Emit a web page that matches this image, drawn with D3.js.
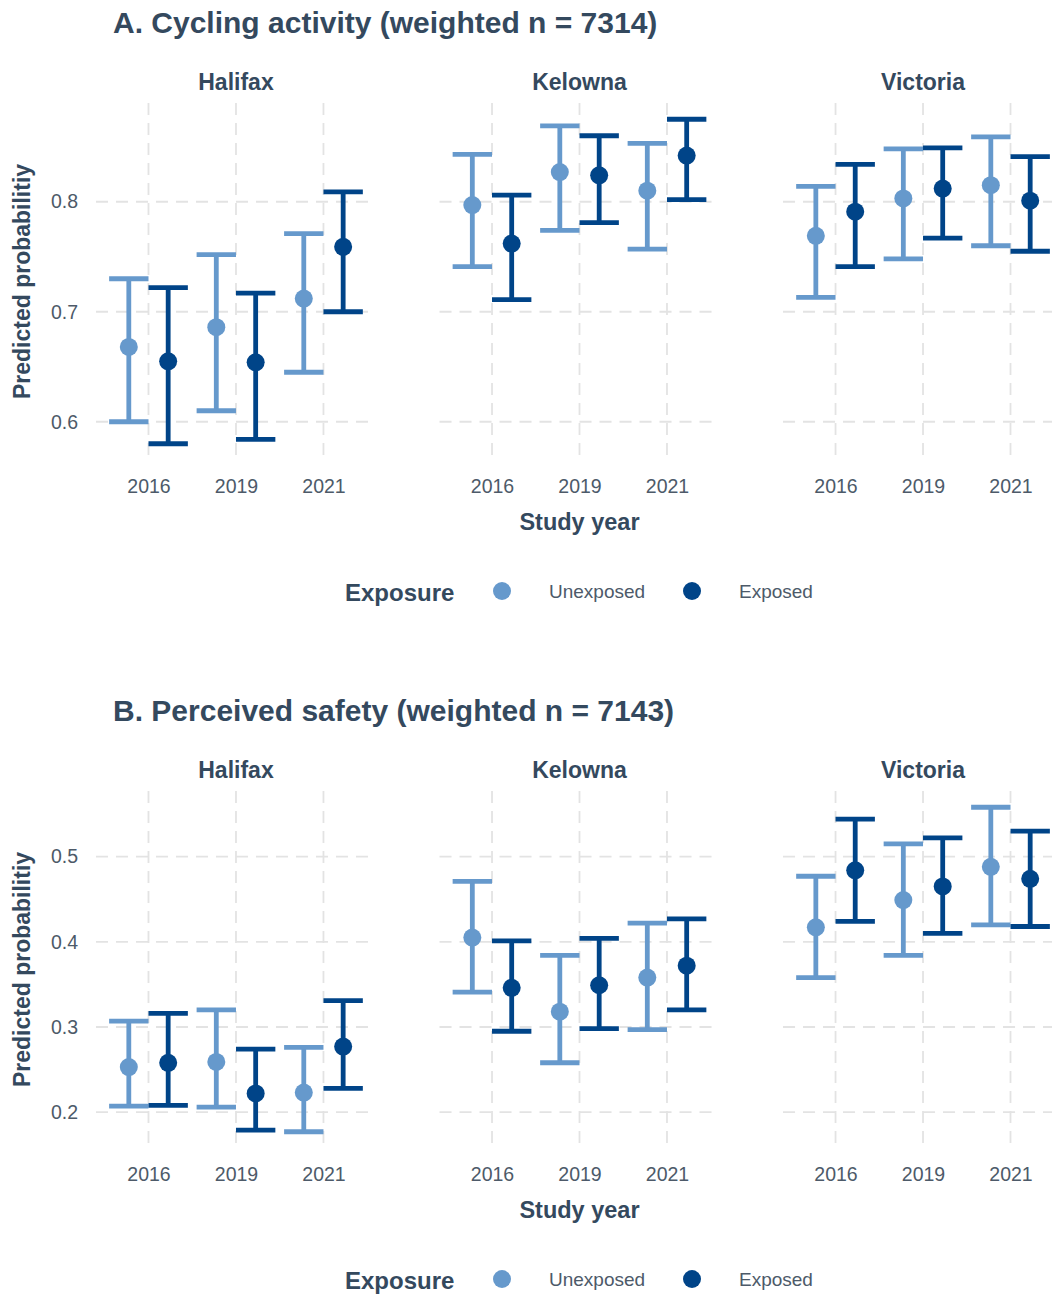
<!DOCTYPE html>
<html>
<head>
<meta charset="utf-8">
<script src="https://cdn.jsdelivr.net/npm/d3@7"></script>
<style>
  body { margin: 0; background: #fff; }
  text { font-family: "Liberation Sans", Arial, sans-serif; }
</style>
</head>
<body>
<svg id="chart" width="1052" height="1295"></svg>
<script>
const cities = ["Halifax", "Kelowna", "Victoria"];
const years = ["2016", "2019", "2021"];
const groups = ["Unexposed", "Exposed"];

// values ordered Halifax 2016/2019/2021, Kelowna 2016/2019/2021, Victoria 2016/2019/2021
// A. Cycling activity
const cycUnexpEst = [0.668, 0.686, 0.712, 0.797, 0.827, 0.810, 0.769, 0.803, 0.815];
const cycUnexpLo  = [0.600, 0.610, 0.645, 0.741, 0.774, 0.757, 0.713, 0.748, 0.760];
const cycUnexpHi  = [0.730, 0.752, 0.771, 0.843, 0.869, 0.853, 0.814, 0.848, 0.859];
const cycExpEst   = [0.655, 0.654, 0.759, 0.762, 0.824, 0.842, 0.791, 0.812, 0.801];
const cycExpLo    = [0.580, 0.584, 0.700, 0.711, 0.781, 0.802, 0.741, 0.767, 0.755];
const cycExpHi    = [0.722, 0.717, 0.809, 0.806, 0.860, 0.875, 0.834, 0.849, 0.841];

// B. Perceived safety
const safUnexpEst = [0.253, 0.259, 0.223, 0.405, 0.318, 0.358, 0.417, 0.449, 0.488];
const safUnexpLo  = [0.207, 0.206, 0.177, 0.341, 0.258, 0.297, 0.358, 0.384, 0.420];
const safUnexpHi  = [0.307, 0.320, 0.276, 0.471, 0.384, 0.422, 0.477, 0.515, 0.558];
const safExpEst   = [0.258, 0.222, 0.277, 0.346, 0.349, 0.372, 0.484, 0.465, 0.474];
const safExpLo    = [0.208, 0.179, 0.228, 0.295, 0.298, 0.320, 0.424, 0.410, 0.418];
const safExpHi    = [0.316, 0.274, 0.331, 0.401, 0.404, 0.427, 0.544, 0.522, 0.530];

const cycTicks = [0.6, 0.7, 0.8];
const safTicks = [0.2, 0.3, 0.4, 0.5];

const colors = { Unexposed: "#6699CC", Exposed: "#004488" };
const titleColor = "#34495E";
const tickColor = "#4D5A69";
const gridColor = "#E3E3E3";

const svg = d3.select("#chart");

const facet = d3.scaleBand()
    .domain(cities)
    .range([96, 1063])
    .paddingInner(0.185);

function buildRows(uEst, uLo, uHi, eEst, eLo, eHi) {
    const rows = [];
    cities.forEach((c, ci) => {
        years.forEach((y, yi) => {
            const i = ci * years.length + yi;
            rows.push({ city: c, year: y, group: "Unexposed", est: uEst[i], lo: uLo[i], hi: uHi[i] });
            rows.push({ city: c, year: y, group: "Exposed", est: eEst[i], lo: eLo[i], hi: eHi[i] });
        });
    });
    return rows;
}

function drawPanel(offsetY, title, rows, yTicks) {
    const g = svg.append("g").attr("transform", `translate(0,${offsetY})`);
    const top = 103, bottom = 460;

    // ggplot style 5% expansion of the data range
    const minV = d3.min(rows, d => d.lo);
    const maxV = d3.max(rows, d => d.hi);
    const pad = (maxV - minV) * 0.05;
    const y = d3.scaleLinear()
        .domain([minV - pad, maxV + pad])
        .range([bottom, top]);

    const x = d3.scalePoint()
        .domain(years)
        .range([0, facet.bandwidth()])
        .padding(0.6);

    const dodge = d3.scaleBand()
        .domain(groups)
        .range([-0.45 * x.step(), 0.45 * x.step()]);

    // title
    g.append("text")
        .attr("x", 113)
        .attr("y", 33)
        .attr("fill", titleColor)
        .style("font-size", "30px")
        .style("font-weight", "bold")
        .text(title);

    cities.forEach((city, ci) => {
        const fx = facet(city);
        const fg = g.append("g").attr("transform", `translate(${fx},0)`);

        // grid
        fg.selectAll("line.hgrid")
            .data(yTicks)
            .join("line")
            .attr("class", "hgrid")
            .attr("x1", 0).attr("x2", facet.bandwidth())
            .attr("y1", d => y(d)).attr("y2", d => y(d))
            .attr("stroke", gridColor)
            .attr("stroke-width", 1.8)
            .attr("stroke-dasharray", "12,8");

        fg.selectAll("line.vgrid")
            .data(years)
            .join("line")
            .attr("class", "vgrid")
            .attr("x1", d => x(d)).attr("x2", d => x(d))
            .attr("y1", top).attr("y2", bottom)
            .attr("stroke", gridColor)
            .attr("stroke-width", 1.8)
            .attr("stroke-dasharray", "12,8");

        // strip label
        fg.append("text")
            .attr("x", facet.bandwidth() / 2)
            .attr("y", 90)
            .attr("text-anchor", "middle")
            .attr("fill", titleColor)
            .style("font-size", "23px")
            .style("font-weight", "bold")
            .text(city);

        // x axis
        const xAxis = fg.append("g")
            .attr("transform", `translate(0,${bottom})`)
            .call(d3.axisBottom(x).tickSize(0).tickPadding(12));
        xAxis.select(".domain").remove();
        xAxis.selectAll("text")
            .attr("fill", tickColor)
            .style("font-size", "19.5px")
            .attr("dy", "0.71em")
            .attr("y", 19);

        if (ci === 0) {
            const yAxis = fg.append("g")
                .call(d3.axisLeft(y).tickValues(yTicks).tickSize(0).tickPadding(18).tickFormat(d3.format(".1f")));
            yAxis.select(".domain").remove();
            yAxis.selectAll("text")
                .attr("fill", tickColor)
                .style("font-size", "19.5px");
        }

        const data = rows.filter(d => d.city === city);
        const cx = d => x(d.year) + dodge(d.group) + dodge.bandwidth() / 2;

        const bars = fg.append("g").selectAll("g")
            .data(data)
            .join("g")
            .attr("stroke", d => colors[d.group])
            .attr("stroke-width", 4.8);

        bars.append("line")
            .attr("x1", cx).attr("x2", cx)
            .attr("y1", d => y(d.lo)).attr("y2", d => y(d.hi));
        bars.append("line")
            .attr("x1", d => x(d.year) + dodge(d.group))
            .attr("x2", d => x(d.year) + dodge(d.group) + dodge.bandwidth())
            .attr("y1", d => y(d.hi)).attr("y2", d => y(d.hi));
        bars.append("line")
            .attr("x1", d => x(d.year) + dodge(d.group))
            .attr("x2", d => x(d.year) + dodge(d.group) + dodge.bandwidth())
            .attr("y1", d => y(d.lo)).attr("y2", d => y(d.lo));

        fg.append("g").selectAll("circle")
            .data(data)
            .join("circle")
            .attr("cx", cx)
            .attr("cy", d => y(d.est))
            .attr("r", 9)
            .attr("fill", d => colors[d.group]);
    });

    // y axis title
    g.append("text")
        .attr("transform", `translate(30,${(top + bottom) / 2}) rotate(-90)`)
        .attr("text-anchor", "middle")
        .attr("fill", titleColor)
        .style("font-size", "23px")
        .style("font-weight", "bold")
        .text("Predicted probabilitiy");

    // x axis title
    g.append("text")
        .attr("x", facet(cities[1]) + facet.bandwidth() / 2)
        .attr("y", 530)
        .attr("text-anchor", "middle")
        .attr("fill", titleColor)
        .style("font-size", "23.5px")
        .style("font-weight", "bold")
        .text("Study year");

    // legend
    const lg = g.append("g");
    lg.append("text")
        .attr("x", 345)
        .attr("y", 601)
        .attr("fill", titleColor)
        .style("font-size", "24px")
        .style("font-weight", "bold")
        .text("Exposure");
    const legendX = d3.scaleOrdinal().domain(groups).range([502, 692]);
    const items = lg.selectAll("g.item")
        .data(groups)
        .join("g")
        .attr("class", "item")
        .attr("transform", d => `translate(${legendX(d)},591)`);
    items.append("circle")
        .attr("r", 9)
        .attr("fill", d => colors[d]);
    items.append("text")
        .attr("x", 47)
        .attr("y", 7)
        .attr("fill", tickColor)
        .style("font-size", "19px")
        .text(d => d);
}

drawPanel(0, "A. Cycling activity (weighted n = 7314)",
    buildRows(cycUnexpEst, cycUnexpLo, cycUnexpHi, cycExpEst, cycExpLo, cycExpHi), cycTicks);
drawPanel(688, "B. Perceived safety (weighted n = 7143)",
    buildRows(safUnexpEst, safUnexpLo, safUnexpHi, safExpEst, safExpLo, safExpHi), safTicks);
</script>
</body>
</html>
